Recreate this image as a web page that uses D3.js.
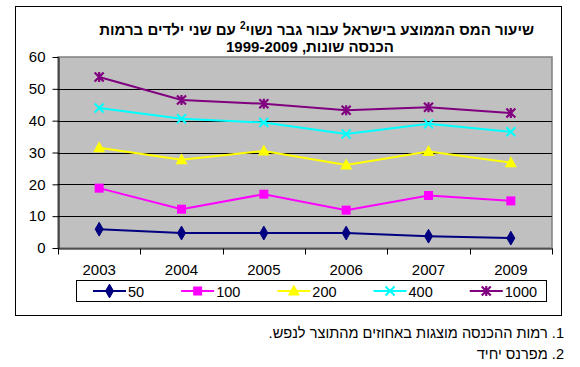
<!DOCTYPE html>
<html>
<head>
<meta charset="utf-8">
<script src="https://cdn.jsdelivr.net/npm/d3@7"></script>
<style>
  body { margin: 0; background: #fff; }
  svg { display: block; }
  text { font-family: "Liberation Sans", Arial, sans-serif; }
</style>
</head>
<body>
<svg id="chart" width="580" height="367"></svg>
<script>
const years = ["2003", "2004", "2005", "2006", "2007", "2009"];
const seriesNames = ["50", "100", "200", "400", "1000"];
const s50 = [5.9, 4.7, 4.7, 4.7, 3.7, 3.1];
const s100 = [18.8, 12.2, 16.9, 11.9, 16.5, 14.8];
const s200 = [31.5, 27.7, 30.5, 26.1, 30.3, 26.8];
const s400 = [44.0, 40.6, 39.4, 35.8, 39.0, 36.5];
const s1000 = [53.7, 46.5, 45.3, 43.3, 44.2, 42.4];
const yTicks = [0, 10, 20, 30, 40, 50, 60];
const titleLine1a = "שיעור המס הממוצע בישראל עבור גבר נשוי";
const titleSup = "2";
const titleLine1b = " עם שני ילדים ברמות";
const titleLine2 = "הכנסה שונות, 1999-2009";
const footnotes = ["1. רמות ההכנסה מוצגות באחוזים מהתוצר לנפש.", "2. מפרנס יחיד"];

const colors = ["#000080", "#FF00FF", "#FFFF00", "#00FFFF", "#800080"];
const markers = ["diamond", "square", "triangle", "x", "star"];
const allSeries = [s50, s100, s200, s400, s1000];

const svg = d3.select("#chart");

// outer frame
svg.append("rect").attr("x", 15.5).attr("y", 6.5).attr("width", 546).attr("height", 309)
  .attr("fill", "#fff").attr("stroke", "#000").attr("stroke-width", 1);

const plot = { left: 58, top: 57, right: 552, bottom: 248 };

const x = d3.scaleBand().domain(years).range([plot.left, plot.right]);
const y = d3.scaleLinear().domain([0, 60]).range([plot.bottom, plot.top]);

// plot background
svg.append("rect").attr("x", plot.left).attr("y", plot.top)
  .attr("width", plot.right - plot.left).attr("height", plot.bottom - plot.top)
  .attr("fill", "#C0C0C0").attr("stroke", "#808080").attr("stroke-width", 1.5);

// gridlines
svg.append("g").selectAll("line").data(yTicks.filter(d => d > 0 && d < 60)).join("line")
  .attr("x1", plot.left).attr("x2", plot.right)
  .attr("y1", d => Math.round(y(d)) + 0.5).attr("y2", d => Math.round(y(d)) + 0.5)
  .attr("stroke", "#000").attr("stroke-width", 1);

// y axis
const yAxis = d3.axisLeft(y).tickValues(yTicks).tickSize(6).tickPadding(7).tickSizeOuter(0);
const yg = svg.append("g").attr("transform", `translate(${plot.left + 0.5},0)`).call(yAxis);
yg.selectAll("text").attr("font-size", 15).attr("fill", "#000").attr("font-family", "Liberation Sans, Arial, sans-serif");
yg.selectAll("line, path").attr("stroke", "#000");

// x axis
const xAxis = d3.axisBottom(x).tickSize(0).tickPadding(16);
const xg = svg.append("g").attr("transform", `translate(0,${plot.bottom + 0.5})`).call(xAxis);
xg.select("path").attr("stroke", "#000");
xg.selectAll("text").attr("font-size", 15).attr("fill", "#000").attr("font-family", "Liberation Sans, Arial, sans-serif");
// ticks at band boundaries
const bounds = years.map(d => x(d)).concat([x.range()[1]]);
xg.selectAll(".bt").data(bounds).join("line").attr("class", "bt")
  .attr("x1", d => Math.round(d) + 0.5).attr("x2", d => Math.round(d) + 0.5)
  .attr("y1", 0).attr("y2", 6).attr("stroke", "#000");

// marker drawing
function drawMarker(g, type, color, cx, cy) {
  if (type === "diamond") {
    g.append("path").attr("d", d3.symbol(d3.symbolDiamond, 55)())
      .attr("transform", `translate(${cx},${cy})`).attr("fill", color).attr("stroke", color);
  } else if (type === "square") {
    g.append("rect").attr("x", cx - 4.5).attr("y", cy - 4.5).attr("width", 9).attr("height", 9)
      .attr("fill", color);
  } else if (type === "triangle") {
    g.append("path").attr("d", `M${cx},${cy - 6.5}L${cx + 6},${cy + 4.5}L${cx - 6},${cy + 4.5}Z`)
      .attr("fill", color);
  } else if (type === "x") {
    g.append("path").attr("d", `M${cx - 4.5},${cy - 4.5}L${cx + 4.5},${cy + 4.5}M${cx - 4.5},${cy + 4.5}L${cx + 4.5},${cy - 4.5}`)
      .attr("stroke", color).attr("stroke-width", 2);
  } else if (type === "star") {
    g.append("path").attr("d", `M${cx - 4.5},${cy - 4.5}L${cx + 4.5},${cy + 4.5}M${cx - 4.5},${cy + 4.5}L${cx + 4.5},${cy - 4.5}M${cx},${cy - 5}L${cx},${cy + 5}`)
      .attr("stroke", color).attr("stroke-width", 2.2);
  }
}

const line = d3.line().x((d, i) => x(years[i]) + x.bandwidth() / 2).y(d => y(d));

allSeries.forEach((vals, si) => {
  const g = svg.append("g");
  g.append("path").datum(vals).attr("d", line).attr("fill", "none")
    .attr("stroke", colors[si]).attr("stroke-width", 2);
  vals.forEach((v, i) => drawMarker(g, markers[si], colors[si], x(years[i]) + x.bandwidth() / 2, y(v)));
});

// legend
svg.append("rect").attr("x", 76.5).attr("y", 280.5).attr("width", 470).attr("height", 21)
  .attr("fill", "#fff").attr("stroke", "#000");
let lx = 93;
seriesNames.forEach((name, si) => {
  const cy = 291;
  const g = svg.append("g");
  g.append("line").attr("x1", lx).attr("x2", lx + 33).attr("y1", cy).attr("y2", cy)
    .attr("stroke", colors[si]).attr("stroke-width", 2);
  drawMarker(g, markers[si], colors[si], lx + 16.5, cy);
  const t = g.append("text").attr("x", lx + 35).attr("y", cy + 5.5).attr("font-size", 14.5).text(name);
  const w = t.node().getComputedTextLength();
  lx = lx + 35 + w + 37;
});

// title
const title = svg.append("text").attr("x", 534).attr("y", 35).attr("direction", "rtl")
  .attr("text-anchor", "start").attr("font-size", 15).attr("font-weight", "bold");
title.append("tspan").text(titleLine1a);
title.append("tspan").attr("font-size", 10).attr("dy", -6).text(titleSup);
title.append("tspan").attr("dy", 6).text(titleLine1b);
svg.append("text").attr("x", 310).attr("y", 52).attr("text-anchor", "middle")
  .attr("direction", "rtl").attr("font-size", 15).attr("font-weight", "bold").text(titleLine2);

// footnotes
footnotes.forEach((f, i) => {
  svg.append("text").attr("x", 564).attr("y", 338 + i * 21).attr("direction", "rtl")
    .attr("text-anchor", "start").attr("font-size", 14.6).attr("fill", "#000").text(f);
});
</script>
</body>
</html>
